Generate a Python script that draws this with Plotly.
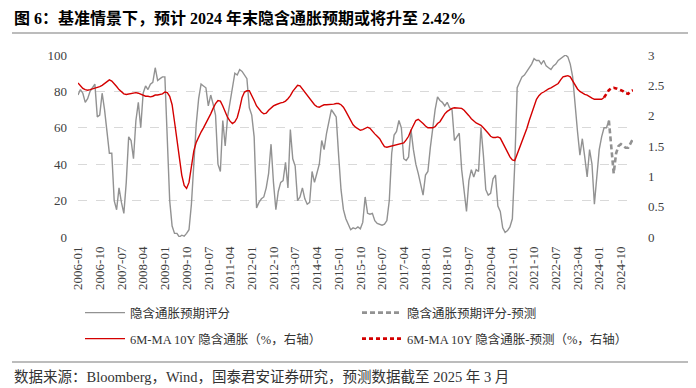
import pandas as pd
import plotly.graph_objects as go

# ---- data ----
months = [d.strftime("%Y-%m") for d in pd.date_range("2006-01-01", "2025-03-01", freq="MS")]

score_actual = [
    78, 81, 79, 74, 76, 80, 82, 84, 66, 67,
    79, 70, 58, 46, 46, 20, 15, 27, 19, 13,
    30, 55, 53, 43, 64, 74, 60, 79, 83, 81,
    84, 85, 93, 86, 87, 88, 88, 55, 20, 6,
    2, 2, 0, 1, 0.5, 2, 4, 18, 42, 62,
    76, 84, 83, 82, 72, 78, 73, 67, 40, 36,
    64, 50, 66, 74, 84, 90, 89, 92, 91, 89,
    87, 71, 67, 55, 16, 19, 21, 22, 27, 35,
    51, 30, 15, 25, 30, 31, 41, 27, 59, 43,
    39, 20, 22, 27, 21, 18, 19, 36, 30, 35,
    40, 53, 48, 57, 64, 70, 68, 66, 45, 26,
    15, 10, 7, 4, 5, 4.5, 5.5, 4.5, 8, 22,
    13, 12.5, 13, 9, 7.5, 7, 6.5, 7, 9, 20,
    46, 56, 58, 64, 60, 43, 42, 44, 59, 48,
    40, 35, 28, 23, 34, 36, 49, 60, 70, 77,
    75, 74, 72, 74, 71, 70, 53, 55, 57, 37,
    27, 14, 31, 37, 33, 37, 36, 60, 45, 26,
    23, 24, 32, 34, 17, 14, 5, 2.5, 3.5, 5.5,
    10, 40, 82, 85, 88, 89, 91, 93, 95, 98,
    97, 97, 95, 97, 94, 93, 92, 94, 95, 97,
    98, 99, 100, 99, 95, 88, 71, 58, 45, 54,
    44, 33, 48, 40, 18, 31, 48, 55, 60, 60,
    64,
]
score_forecast = [64, 50, 35, 46, 50, 51, 50, 49, 49, 52, 54]

infl_actual = [
    2.54, 2.49, 2.45, 2.43, 2.42, 2.43, 2.44, 2.45, 2.46, 2.48,
    2.50, 2.53, 2.57, 2.59, 2.57, 2.53, 2.48, 2.43, 2.39, 2.36,
    2.35, 2.36, 2.37, 2.38, 2.38, 2.37, 2.35, 2.33, 2.32, 2.32,
    2.31, 2.32, 2.34, 2.34, 2.35, 2.36, 2.39, 2.38, 2.32, 2.18,
    1.90, 1.58, 1.26, 1.02, 0.85, 0.80, 0.90, 1.18, 1.42, 1.56,
    1.66, 1.73, 1.80, 1.87, 1.95, 2.03, 2.12, 2.20, 2.25, 2.24,
    2.16, 2.06, 1.97, 1.91, 1.87, 1.90, 1.97, 2.12, 2.30, 2.39,
    2.41, 2.41, 2.34, 2.25, 2.16, 2.10, 2.06, 2.03, 2.04, 2.09,
    2.13, 2.16, 2.18, 2.20, 2.21, 2.22, 2.24, 2.28, 2.33, 2.40,
    2.46, 2.50, 2.49, 2.44, 2.39, 2.33, 2.28, 2.23, 2.18, 2.15,
    2.14, 2.16, 2.18, 2.18, 2.18, 2.18, 2.19, 2.20, 2.20, 2.18,
    2.14, 2.07, 2.00, 1.92, 1.85, 1.81, 1.78, 1.76, 1.77, 1.79,
    1.81, 1.79, 1.74, 1.70, 1.66, 1.62, 1.55, 1.49, 1.48, 1.49,
    1.50, 1.51, 1.53, 1.53, 1.54, 1.55, 1.60, 1.66, 1.76, 1.85,
    1.92, 1.94, 1.91, 1.87, 1.83, 1.80, 1.80, 1.80, 1.82, 1.87,
    1.90, 1.97, 2.03, 2.07, 2.10, 2.12, 2.13, 2.13, 2.13, 2.12,
    2.09, 2.05, 2.00, 1.95, 1.91, 1.88, 1.86, 1.84, 1.80, 1.76,
    1.71, 1.66, 1.64, 1.64, 1.65, 1.63, 1.56, 1.48, 1.40, 1.32,
    1.27, 1.26, 1.36, 1.47, 1.57, 1.68, 1.79, 1.92, 2.04, 2.16,
    2.27, 2.33, 2.37, 2.39, 2.42, 2.44, 2.46, 2.48, 2.50, 2.53,
    2.59, 2.64, 2.65, 2.66, 2.64, 2.57, 2.50, 2.44, 2.40, 2.37,
    2.35, 2.34, 2.31, 2.29, 2.27, 2.27, 2.27, 2.27, 2.30,
]
infl_forecast = [2.30, 2.36, 2.42, 2.45, 2.46, 2.45, 2.44, 2.42, 2.40, 2.37, 2.36, 2.40, 2.42]

tick_labels = months[::9]

names = ["隐含通胀预期评分", "隐含通胀预期评分-预测",
         "6M-MA 10Y 隐含通胀（%，右轴）", "6M-MA 10Y 隐含通胀-预测（%，右轴）"]
title_text = "图 6：基准情景下，预计 2024 年末隐含通胀预期或将升至 2.42%"
source_text = "数据来源：Bloomberg，Wind，国泰君安证券研究，预测数据截至 2025 年 3 月"

# ---- figure ----
GRAY = "#929292"
RED = "#d40000"
FONT = "Liberation Serif, Noto Sans CJK SC, serif"

n_sa = len(score_actual)
n_ia = len(infl_actual)

fig = go.Figure()
fig.add_trace(go.Scatter(x=months[:n_sa], y=score_actual, name=names[0], mode="lines",
                         line=dict(color=GRAY, width=1.4), legend="legend"))
fig.add_trace(go.Scatter(x=months[n_sa - 1:], y=score_forecast, name=names[1], mode="lines",
                         line=dict(color=GRAY, width=2.6, dash="5px,3px"), legend="legend"))
fig.add_trace(go.Scatter(x=months[:n_ia], y=infl_actual, name=names[2], mode="lines",
                         line=dict(color=RED, width=1.4), yaxis="y2", legend="legend2"))
fig.add_trace(go.Scatter(x=months[n_ia - 1:], y=infl_forecast, name=names[3], mode="lines",
                         line=dict(color=RED, width=2.6, dash="4px,3px"), yaxis="y2", legend="legend2"))

# page body adds an 8px offset; the figure is laid out in page coordinates minus that offset
OFF = 8
FW, FH = 688, 380
L, T = 78 - OFF, 55 - OFF
W, H = 555, 182
R = FW - L - W
B = FH - T - H

def px(x):
    return (x - OFF - L) / W

def py(y):
    return (T + H - (y - OFF)) / H

legend_common = dict(orientation="h", xanchor="left", yanchor="middle",
                     font=dict(family=FONT, size=12.5, color="#333333"),
                     entrywidth=222, entrywidthmode="pixels", itemwidth=40,
                     bgcolor="rgba(0,0,0,0)", borderwidth=0, tracegroupgap=0)

fig.update_layout(
    width=FW, height=FH,
    margin=dict(l=L, r=R, t=T, b=B, pad=0, autoexpand=False),
    paper_bgcolor="white", plot_bgcolor="white",
    font=dict(family=FONT, color="#404040"),
    showlegend=True,
    legend=dict(x=px(80), y=py(313), **legend_common),
    legend2=dict(x=px(80), y=py(339), **legend_common),
    xaxis=dict(type="category", categoryorder="array", categoryarray=months,
               range=[0, len(months) - 1], tickmode="array", tickvals=tick_labels,
               ticktext=tick_labels, tickangle=-90, showgrid=False, showline=False,
               zeroline=False, ticks="", ticklabelstandoff=6, automargin=False,
               tickfont=dict(family=FONT, size=13, color="#404040")),
    yaxis=dict(range=[0, 100], dtick=20, showgrid=True, gridcolor="#d9d9d9",
               griddash="dash", gridwidth=1, zeroline=False, showline=False, ticks="",
               ticklabelstandoff=10, automargin=False,
               tickfont=dict(family=FONT, size=13, color="#404040")),
    yaxis2=dict(range=[0, 3], dtick=0.5, overlaying="y", side="right", showgrid=False,
                zeroline=False, showline=False, ticks="", ticklabelstandoff=14, automargin=False,
                tickfont=dict(family=FONT, size=13, color="#404040")),
    shapes=[
        dict(type="line", xref="paper", yref="paper", x0=px(12), x1=px(690),
             y0=py(33), y1=py(33), line=dict(color="#a6a6a6", width=1.5)),
        dict(type="line", xref="paper", yref="paper", x0=px(12), x1=px(690),
             y0=py(362), y1=py(362), line=dict(color="#a6a6a6", width=1.5)),
    ],
    annotations=[
        dict(text="<b>" + title_text + "</b>", xref="paper", yref="paper", x=px(12), y=py(18),
             xanchor="left", yanchor="middle", showarrow=False,
             font=dict(family=FONT, size=16, color="#000000")),
        dict(text=source_text, xref="paper", yref="paper", x=px(12), y=py(377),
             xanchor="left", yanchor="middle", showarrow=False,
             font=dict(family=FONT, size=14.5, color="#333333")),
    ],
)

fig.write_html("out.html")
